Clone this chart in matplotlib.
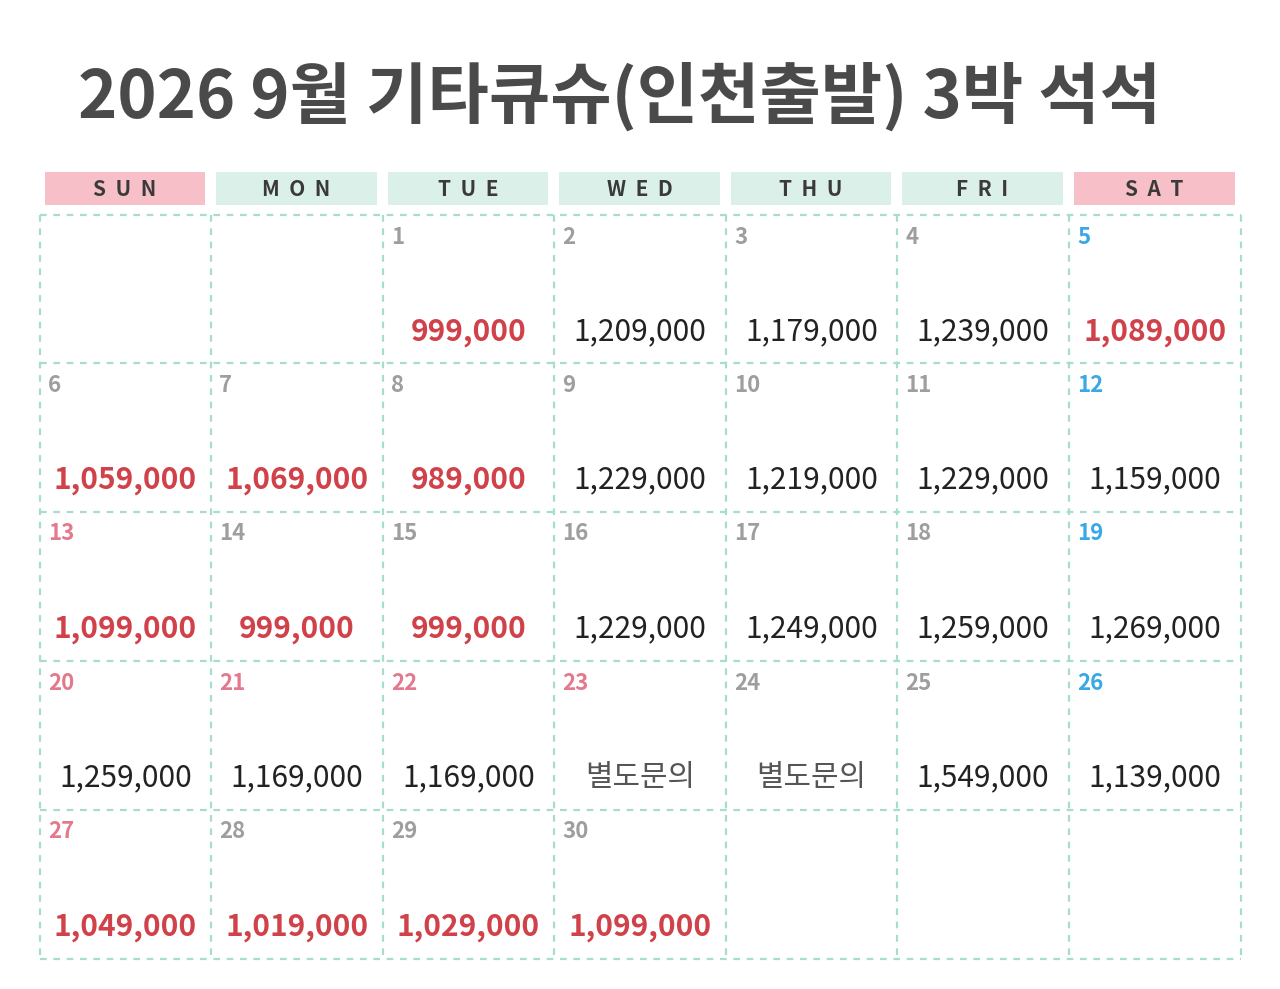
import matplotlib.pyplot as plt
from matplotlib.patches import Rectangle

plt.rcParams['font.family'] = ['Noto Sans CJK KR', 'DejaVu Sans']

title = "2026 9월 기타큐슈(인천출발) 3박 석석"
weekdays = ["SUN", "MON", "TUE", "WED", "THU", "FRI", "SAT"]
header_colors = ["#f7c0c8", "#dcf0ea", "#dcf0ea", "#dcf0ea", "#dcf0ea", "#dcf0ea", "#f7c0c8"]
first_weekday = 2  # Sept 1 2026 is Tuesday
days = list(range(1, 31))
prices = ["999,000", "1,209,000", "1,179,000", "1,239,000", "1,089,000",
          "1,059,000", "1,069,000", "989,000", "1,229,000", "1,219,000", "1,229,000", "1,159,000",
          "1,099,000", "999,000", "999,000", "1,229,000", "1,249,000", "1,259,000", "1,269,000",
          "1,259,000", "1,169,000", "1,169,000", "별도문의", "별도문의", "1,549,000", "1,139,000",
          "1,049,000", "1,019,000", "1,029,000", "1,099,000"]
red_days = [1, 5, 6, 7, 8, 13, 14, 15, 27, 28, 29, 30]
holiday_days = [13, 20, 21, 22, 23, 27]

fig = plt.figure(figsize=(12.8, 9.89), dpi=100)
ax = fig.add_axes([0, 0, 1, 1])
ax.set_xlim(0, 1280)
ax.set_ylim(989, 0)
ax.axis('off')

ax.text(620, 97, title, ha='center', va='center', fontsize=48, fontweight='bold', color='#4a4a4a')

col_x = [40, 211, 383, 554, 726, 897, 1069, 1241]
row_y = [215, 363, 512, 661, 810, 959]
grid_color = '#a8dccb'

for i, (wd, hc) in enumerate(zip(weekdays, header_colors)):
    x0, x1 = col_x[i] + 5, col_x[i + 1] - 6
    ax.add_patch(Rectangle((x0, 172), x1 - x0, 33, color=hc, lw=0))
    ax.text((x0 + x1) / 2, 189, "  ".join(wd), ha='center', va='center',
            fontsize=15, fontweight='bold', color='#3a3a3a')

for x in col_x:
    ax.plot([x, x], [row_y[0], row_y[-1]], color=grid_color, lw=1.6, ls=(0, (3, 3)))
for y in row_y:
    ax.plot([col_x[0], col_x[-1]], [y, y], color=grid_color, lw=1.6, ls=(0, (3, 3)))

for d, p in zip(days, prices):
    idx = first_weekday + d - 1
    r, c = divmod(idx, 7)
    x0, x1 = col_x[c], col_x[c + 1]
    y0 = row_y[r]
    if c == 6:
        nc = '#3aa8e6'
    elif d in holiday_days:
        nc = '#e4788c'
    else:
        nc = '#9e9e9e'
    ax.text(x0 + 8, y0 + 22, str(d), ha='left', va='center', fontsize=16, fontweight='bold', color=nc)
    red = d in red_days
    ax.text((x0 + x1) / 2, y0 + 117, p, ha='center', va='center', fontsize=21.5,
            fontweight='bold' if red else 'normal',
            color='#d0414a' if red else ('#555555' if p == "별도문의" else '#222222'))

fig.savefig('out.png', dpi=100, facecolor='white')
